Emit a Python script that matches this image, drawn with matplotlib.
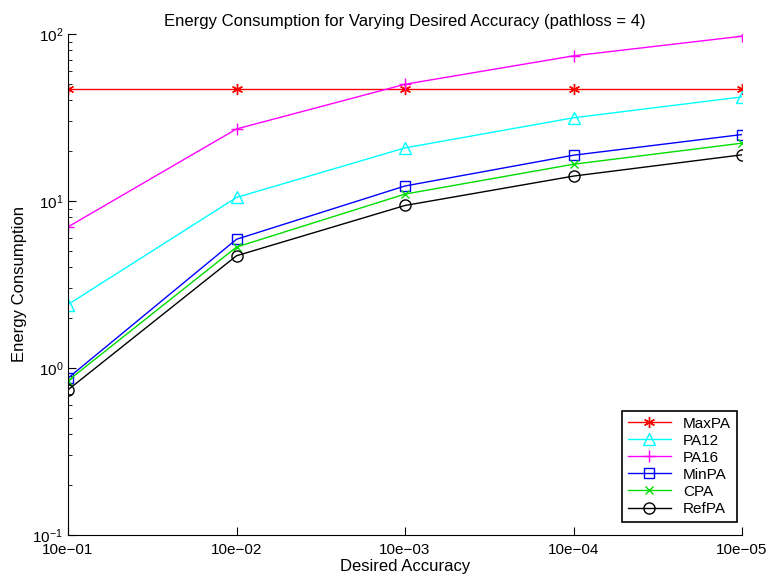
import matplotlib.pyplot as plt

plt.rcParams['font.family'] = ['Liberation Sans', 'DejaVu Sans']

x_labels = ["10e\u221201", "10e\u221202", "10e\u221203", "10e\u221204", "10e\u221205"]
x = [1, 2, 3, 4, 5]

maxpa = [47.0, 47.0, 47.0, 47.0, 47.0]
pa12 = [2.4, 10.5, 20.8, 31.5, 42.0]
pa16 = [7.0, 27.0, 50.0, 74.0, 97.0]
minpa = [0.87, 5.9, 12.3, 18.8, 25.0]
cpa = [0.84, 5.3, 11.0, 16.6, 22.2]
refpa = [0.74, 4.7, 9.4, 14.1, 18.9]

fig = plt.figure(figsize=(7.68, 5.75), dpi=100)
ax = fig.add_axes([68 / 768, 1 - 535 / 575, (742 - 68) / 768, (535 - 34) / 575])

ax.plot(x, maxpa, color='red', marker=(6, 2, 0), ms=8, lw=1, label='MaxPA')
ax.plot(x, pa12, color='cyan', marker='^', ms=8, mfc='none', lw=1, label='PA12')
ax.plot(x, pa16, color='magenta', marker='+', ms=9, lw=1, label='PA16')
ax.plot(x, minpa, color='blue', marker='s', ms=7, mfc='none', lw=1, label='MinPA')
ax.plot(x, cpa, color='#00dd00', marker='x', ms=6, lw=1, label='CPA')
ax.plot(x, refpa, color='black', marker='o', ms=8, mfc='none', lw=1, label='RefPA')

ax.set_yscale('log')
ax.set_ylim(0.1, 100)
ax.set_xlim(1, 5)
ax.set_xticks(x)
ax.set_xticklabels(x_labels)
ax.tick_params(direction='in', which='both', labelsize=11)
ax.tick_params(which='major', length=6)
ax.tick_params(which='minor', length=3)
ax.tick_params(axis='x', pad=6)
ax.spines['top'].set_visible(False)
ax.spines['right'].set_visible(False)

ax.set_title('Energy Consumption for Varying Desired Accuracy (pathloss = 4)', fontsize=12)
ax.set_xlabel('Desired Accuracy', fontsize=12, labelpad=1)
ax.set_ylabel('Energy Consumption', fontsize=12)

leg = ax.legend(loc='lower right', bbox_to_anchor=(1 - 5 / 674, 13 / 501), borderaxespad=0,
                fontsize=11, fancybox=False, framealpha=1, edgecolor='black',
                borderpad=0.4, labelspacing=0.2, handlelength=2.8)
leg.get_frame().set_linewidth(1.2)

fig.savefig('out.png', dpi=100)
